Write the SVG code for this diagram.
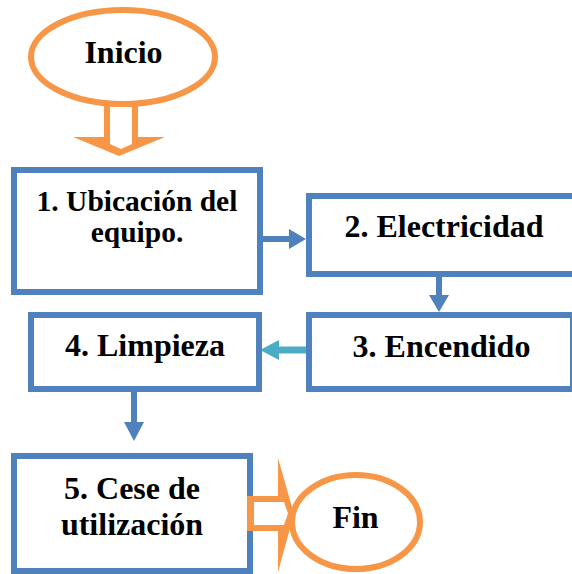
<svg xmlns="http://www.w3.org/2000/svg" width="572" height="574" viewBox="0 0 572 574">
<style>
.box{fill:#FFFFFF;stroke:#4F81BD;stroke-width:6}
.term{fill:#FFFFFF;stroke:#F79646;stroke-width:6}
.t{font-family:"Liberation Serif","Times New Roman",serif;font-weight:bold;font-size:32px;fill:#000000;text-anchor:middle}
.t1{font-size:29.5px}
.ln{stroke:#4F81BD;stroke-width:6;fill:none}
.hd{fill:#4F81BD}
.ln2{stroke:#4BACC6;stroke-width:7;fill:none}
.hd2{fill:#4BACC6}
.bo{fill:#F79646}
.bi{fill:#FFFFFF}
</style>
<rect width="572" height="574" fill="#FFFFFF"/>
<g id="connectors">
  <g id="c-start-1">
    <polygon class="bo" points="104,98 138,98 138,137 165,137 119,156 73,137 104,137"/>
    <polygon class="bi" points="110,98 132,98 132,144 121,149 110,144"/>
  </g>
  <g id="c-1-2">
    <line class="ln" x1="262" y1="239" x2="291" y2="239"/>
    <polygon class="hd" points="289,229 306,239 289,249"/>
  </g>
  <g id="c-2-3">
    <line class="ln" x1="439" y1="276" x2="439" y2="297"/>
    <polygon class="hd" points="429,295 449,295 439,312"/>
  </g>
  <g id="c-3-4">
    <line class="ln2" x1="307" y1="350" x2="277" y2="350"/>
    <polygon class="hd2" points="279,340 279,360 260,350"/>
  </g>
  <g id="c-4-5">
    <line class="ln" x1="134" y1="391" x2="134" y2="424"/>
    <polygon class="hd" points="124,422 144,422 134,441"/>
  </g>
</g>
<g id="n-inicio">
  <ellipse class="term" cx="123" cy="57" rx="92" ry="47"/>
  <text class="t" x="123.5" y="63">Inicio</text>
</g>
<g id="n-1">
  <rect class="box" x="14" y="170" width="246" height="122"/>
  <text class="t t1" x="137" y="211">1. Ubicación del</text>
  <text class="t t1" x="137" y="242">equipo.</text>
</g>
<g id="n-2">
  <rect class="box" x="309" y="196" width="266" height="78"/>
  <text class="t" x="444" y="237">2. Electricidad</text>
</g>
<g id="n-3">
  <rect class="box" x="309" y="315" width="264" height="74"/>
  <text class="t" x="441.5" y="357">3. Encendido</text>
</g>
<g id="n-4">
  <rect class="box" x="31" y="315" width="228" height="74"/>
  <text class="t" x="145" y="356">4. Limpieza</text>
</g>
<g id="n-5">
  <rect class="box" x="14" y="456" width="236" height="115"/>
  <text class="t" x="132" y="499">5. Cese de</text>
  <text class="t" x="132" y="535">utilización</text>
</g>
<g id="c-5-fin">
  <polygon class="bo" points="247,496 278,496 278,458 294,514 278,572 278,531 247,531"/>
  <polygon class="bi" points="254,502 284,502 288,513.5 284,525 254,525"/>
</g>
<g id="n-fin">
  <ellipse class="term" cx="356" cy="522" rx="64" ry="47"/>
  <text class="t" x="355.5" y="528">Fin</text>
</g>
</svg>
